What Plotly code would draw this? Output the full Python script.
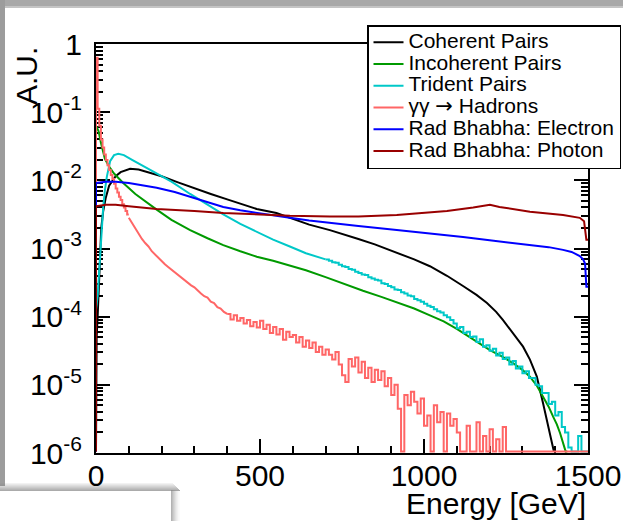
import plotly.graph_objects as go

# ---------------- data (log10 of A.U.; None = empty bin) ----------------
coherent_E = [0, 2, 5, 8, 12, 16, 22, 30, 40, 50, 60, 75, 90, 104, 130, 160, 200, 250, 290, 350,
              400, 450, 490, 550, 590, 650, 713, 750, 800, 850, 917, 970, 1018, 1070, 1119, 1160,
              1192, 1220, 1241, 1272, 1302, 1323, 1344, 1363, 1378, 1390, 1396]
coherent_log = [-4.5, -4.3, -4.0, -3.6, -3.0, -2.7, -2.45, -2.25, -2.08, -2.0, -1.94, -1.88, -1.85,
                -1.83, -1.84, -1.88, -1.94, -2.03, -2.10, -2.20, -2.28, -2.36, -2.42, -2.48, -2.55,
                -2.65, -2.73, -2.79, -2.86, -2.94, -3.06, -3.16, -3.26, -3.40, -3.55, -3.68, -3.80,
                -3.93, -4.05, -4.24, -4.44, -4.63, -4.88, -5.27, -5.62, -5.85, None]

incoherent_E = [0, 8, 15, 27, 40, 55, 83, 120, 150, 185, 230, 287, 340, 388, 440, 490, 540, 591,
                640, 700, 760, 814, 870, 917, 970, 1018, 1060, 1100, 1140, 1170, 1201, 1240, 1271,
                1300, 1323, 1345, 1363, 1380, 1394, 1405, 1415, 1425, 1432, 1437]
incoherent_log = [-1.2, -1.28, -1.45, -1.68, -1.80, -1.90, -2.04, -2.20, -2.31, -2.43, -2.58, -2.73,
                  -2.85, -2.95, -3.04, -3.12, -3.18, -3.25, -3.32, -3.42, -3.53, -3.62, -3.71, -3.79,
                  -3.88, -3.98, -4.07, -4.18, -4.30, -4.39, -4.49, -4.59, -4.68, -4.78, -4.88, -5.02,
                  -5.18, -5.32, -5.47, -5.58, -5.71, -5.85, -5.98, None]

trident_head_E = [0, 5, 10, 14, 17, 22, 27, 33, 43, 55, 68, 85, 110, 140, 185, 230, 287, 330, 388,
                  440, 490, 540, 591, 640, 700]
trident_head_log = [-3.9, -3.7, -3.3, -3.0, -2.77, -2.39, -2.15, -1.95, -1.72, -1.63, -1.61, -1.63,
                    -1.70, -1.78, -1.89, -2.02, -2.20, -2.33, -2.50, -2.64, -2.76, -2.87, -2.97,
                    -3.07, -3.16]
# 10 GeV bins from 700 to 1500
trident_tail_log = [-3.16, -3.18, -3.20, -3.21, -3.24, -3.26, -3.27, -3.30, -3.31, -3.34,
                    -3.36, -3.38, -3.39, -3.42, -3.44, -3.46, -3.47, -3.51, -3.52, -3.55,
                    -3.57, -3.60, -3.61, -3.64, -3.66, -3.69, -3.70, -3.74, -3.76, -3.78,
                    -3.81, -3.84, -3.86, -3.89, -3.92, -3.94, -3.98, -4.01, -4.05, -4.10,
                    -4.17, -4.15, -4.24, -4.22, -4.30, -4.29, -4.37, -4.33, -4.44, -4.42,
                    -4.50, -4.47, -4.57, -4.53, -4.62, -4.60, -4.70, -4.65, -4.76, -4.73,
                    -4.83, -4.80, -4.90, -4.90, -5.00, -5.02, -5.12, -5.12, -5.28, -5.25,
                    -5.45, -5.40, -5.62, -5.70, -5.92, None, None, -5.75, None, None]

# gamma gamma -> hadrons
hadrons_head_log = [-0.2, -0.95, -1.2, -1.4, -1.52, -1.62, -1.70, -1.78, -1.85, -1.92,
                    -1.98, -2.05, -2.12, -2.18, -2.24, -2.29, -2.35, -2.40, -2.45, -2.50]  # 5 GeV bins, 0-100
hadrons_mid_log = [-2.55, -2.63, -2.72, -2.78, -2.86, -2.92, -2.97, -3.04, -3.09, -3.14,
                   -3.19, -3.23, -3.27, -3.31, -3.35, -3.38, -3.42, -3.46, -3.50, -3.54,
                   -3.57, -3.62, -3.66, -3.70, -3.72, -3.78, -3.80, -3.86, -3.88, -3.93,
                   -3.96]  # 100-400 every 10 GeV
hadrons_tail_log = [-3.96, -4.04, -3.98, -4.06, -4.02, -4.10, -4.05, -4.14, -4.08, -4.16,
                    -4.06, -4.18, -4.12, -4.24, -4.15, -4.26, -4.18, -4.34, -4.22, -4.30,
                    -4.27, -4.38, -4.30, -4.44, -4.35, -4.46, -4.38, -4.52, -4.44, -4.56,
                    -4.48, -4.56, -4.63, -4.52, -4.70, -4.86, -4.96, -4.62, -4.73, -4.60,
                    -4.82, -4.66, -4.90, -4.75, -4.96, -4.78, -4.93, -4.80, -5.02, -4.90,
                    -5.15, -5.00, -5.35, None, -5.15, -5.30, -5.10, -5.25, -5.42, -5.20,
                    -5.60, -5.45, None, -5.30, -5.55, -5.40, None, -5.42, -5.60, -5.50,
                    -5.70, None, None, -5.60, None, None, -5.55, None, -5.75, None,
                    -5.65, None, -5.80, None, -5.62, None, None, None, None, None,
                    None, None, None, None, None, None, None, None, None, None,
                    None, None, None, None, None, None, None, None, None, None]  # 10 GeV bins, 400-1500

electron_E = [0, 30, 60, 100, 140, 185, 240, 287, 340, 388, 440, 490, 540, 591, 650, 713, 800, 917,
              1000, 1119, 1200, 1323, 1380, 1424, 1450, 1475, 1485, 1491, 1495, 1500]
electron_log = [-2.04, -2.02, -2.02, -2.04, -2.07, -2.11, -2.17, -2.24, -2.32, -2.39, -2.44, -2.48,
                -2.52, -2.55, -2.59, -2.62, -2.67, -2.73, -2.77, -2.83, -2.88, -2.95, -2.98, -3.02,
                -3.05, -3.11, -3.16, -3.22, -3.56, -3.56]

photon_E = [0, 30, 60, 100, 185, 300, 388, 500, 591, 713, 800, 917, 1000, 1070, 1150, 1201, 1230,
            1323, 1424, 1475, 1488, 1495, 1500]
photon_log = [-2.38, -2.36, -2.36, -2.38, -2.42, -2.45, -2.48, -2.50, -2.52, -2.53, -2.53, -2.51,
              -2.48, -2.45, -2.40, -2.36, -2.39, -2.46, -2.51, -2.55, -2.60, -2.87, -2.87]

x_ticks = [0, 500, 1000, 1500]
y_tick_text = ["10<sup>-6</sup>", "10<sup>-5</sup>", "10<sup>-4</sup>", "10<sup>-3</sup>",
               "10<sup>-2</sup>", "10<sup>-1</sup>", "1"]

# ---------------- styling ----------------
FONT = "Liberation Sans, Arial, Helvetica, sans-serif"
W, H = 623, 521
L, R, T, B = 96, 588, 44, 453
FLOOR = 1.05e-6
E_MAX = 1500


def px_x(p):
    return (p - L) / (R - L)


def px_y(p):
    return (B - p) / (B - T)


def to_vals(logs):
    return [FLOOR if v is None else 10 ** v for v in logs]


def legend_name(s):
    return '<span style="font-size:21px">' + s + '</span>'


fig = go.Figure()


def add_linear(E, logs, color, name, show=True, lead=True):
    xs, ys = list(E), to_vals(logs)
    if lead:
        xs, ys = [E[0]] + xs, [FLOOR] + ys
    fig.add_trace(go.Scatter(
        x=xs, y=ys, mode="lines", line=dict(color=color, width=2),
        name=legend_name(name), showlegend=show, legendgroup=name, hoverinfo="skip"))


def add_steps(edges, logs, color, name, end, show=True, lead=True):
    xs = list(edges) + [end]
    ys = to_vals(logs)
    ys = ys + [ys[-1]]
    if lead:
        xs = [edges[0]] + xs
        ys = [FLOOR] + ys
    fig.add_trace(go.Scatter(
        x=xs, y=ys, mode="lines", line=dict(color=color, width=2, shape="hv"),
        name=legend_name(name), showlegend=show, legendgroup=name, hoverinfo="skip"))


C_COH, C_INC, C_TRI = "#000000", "#009a00", "#00c8c8"
C_HAD, C_ELE, C_PHO = "#ff6666", "#0000ff", "#990000"
HAD_NAME = 'γγ <span style="font-family:DejaVu Sans">→</span> Hadrons'

add_linear(coherent_E, coherent_log, C_COH, "Coherent Pairs")
add_linear(incoherent_E, incoherent_log, C_INC, "Incoherent Pairs")
add_linear(trident_head_E, trident_head_log, C_TRI, "Trident Pairs")
add_steps(list(range(700, 1500, 10)), trident_tail_log, C_TRI, "Trident Pairs", E_MAX,
          show=False, lead=False)
add_steps(list(range(0, 100, 5)), hadrons_head_log, C_HAD, HAD_NAME, 100)
add_linear(list(range(100, 401, 10)), hadrons_mid_log, C_HAD, HAD_NAME, show=False, lead=False)
add_steps(list(range(400, 1500, 10)), hadrons_tail_log, C_HAD, HAD_NAME, E_MAX,
          show=False, lead=False)
add_linear(electron_E, electron_log, C_ELE, "Rad Bhabha: Electron")
add_linear(photon_E, photon_log, C_PHO, "Rad Bhabha: Photon")

minor_y = [k * 10.0 ** n for n in range(-6, 0) for k in range(2, 10)]

shapes = []


def rect(x0, y0, x1, y1, color, opacity=1.0):
    shapes.append(dict(type="rect", xref="paper", yref="paper",
                       x0=px_x(x0), x1=px_x(x1), y0=px_y(y1), y1=px_y(y0),
                       fillcolor=color, line=dict(width=0), layer="below", opacity=opacity))


# screenshot surroundings (grey window edges and the overlapping box)
rect(0, 0, W, 8, "#a8a8a8")
rect(0, 6, W, 8, "#c4c4c4")
rect(0, 0, 5, 486, "#9c9c9c")
for i, op in enumerate([0.10, 0.18, 0.26, 0.34, 0.42, 0.50, 0.58, 0.66]):
    rect(0, 483 + i, 180 - (7 - i), 484 + i, "#808080", op)
for i, op in enumerate([0.60, 0.50, 0.40, 0.32, 0.24, 0.17, 0.11, 0.06, 0.03]):
    rect(171 + i, 490, 172 + i, H, "#808080", op)
rect(0, 491, 171, H, "#ffffff")

fig.update_layout(
    width=W, height=H, autosize=False,
    margin=dict(l=L, r=W - R, t=T, b=H - B, pad=0, autoexpand=False),
    paper_bgcolor="#ffffff", plot_bgcolor="#ffffff",
    font=dict(family=FONT, color="black"),
    showlegend=True,
    legend=dict(x=px_x(621), y=px_y(25), xanchor="right", yanchor="top",
                bgcolor="white", bordercolor="black", borderwidth=1.5,
                font=dict(family=FONT, size=14.4, color="black"),
                tracegroupgap=0, itemwidth=30),
    shapes=shapes,
    xaxis=dict(range=[0, E_MAX], tickmode="array", tickvals=x_ticks,
               ticktext=[str(v) for v in x_ticks],
               ticks="inside", ticklen=14, tickwidth=1.5, tickcolor="black",
               minor=dict(tickvals=list(range(0, 1501, 100)), ticks="inside", ticklen=7,
                          tickwidth=1.5, tickcolor="black", showgrid=False),
               showline=True, linewidth=2, linecolor="black", mirror=True,
               showgrid=False, zeroline=False, layer="below traces",
               tickfont=dict(size=30, family=FONT, color="black"), ticklabelstandoff=-5),
    yaxis=dict(type="log", range=[-6, 0], tickmode="array",
               tickvals=[10.0 ** n for n in range(-6, 1)], ticktext=y_tick_text,
               ticks="inside", ticklen=14, tickwidth=1.5, tickcolor="black",
               minor=dict(tickvals=minor_y, ticks="inside", ticklen=7, tickwidth=1.5,
                          tickcolor="black", showgrid=False),
               showline=True, linewidth=2, linecolor="black", mirror="ticks",
               showgrid=False, zeroline=False, layer="below traces",
               tickfont=dict(size=30, family=FONT, color="black"), ticklabelstandoff=6),
    annotations=[
        dict(text="A.U.", xref="paper", yref="paper", x=px_x(27), y=px_y(45),
             xanchor="center", yanchor="top", textangle=-90, showarrow=False,
             font=dict(size=30, family=FONT, color="black")),
        dict(text="Energy [GeV]", xref="paper", yref="paper", x=1.0, y=px_y(503),
             xanchor="right", yanchor="middle", showarrow=False,
             font=dict(size=30, family=FONT, color="black")),
    ],
)

fig.write_html(
    "out.html",
    post_script="document.body.style.margin='0';document.body.style.overflow='hidden';",
)
